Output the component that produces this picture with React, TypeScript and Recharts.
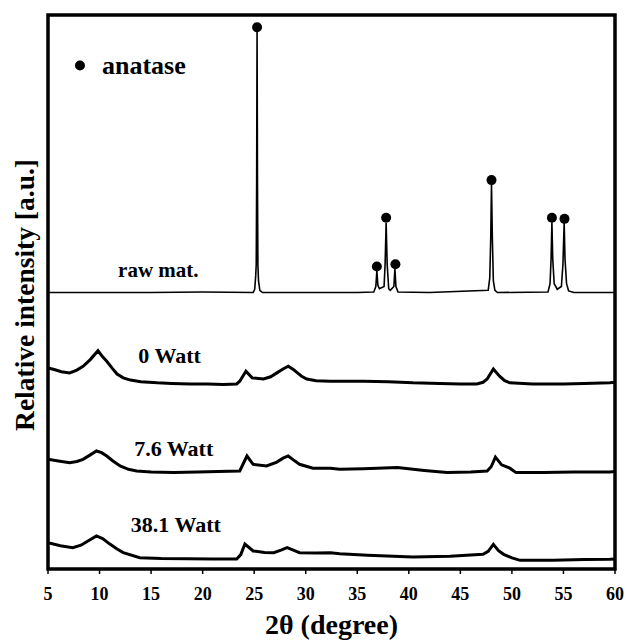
import React from 'react';
import {
  ComposedChart, Line, Scatter, XAxis, YAxis, ReferenceArea, ReferenceDot, Label,
} from 'recharts';

// 2-theta (degree) / relative intensity (a.u.)
const rawMat: [number, number][] = [
  [5, 49.9], [10, 49.9], [15, 49.9], [20, 50.0], [24.9, 49.9], [25.05, 50.5], [25.15, 53],
  [25.2, 55], [25.24, 70], [25.28, 97.2], [25.32, 70], [25.36, 55], [25.42, 52], [25.55, 50.3],
  [25.8, 49.9], [30, 49.9], [35, 49.9], [36.6, 50.0], [36.8, 51], [36.9, 53.8], [37.0, 51.2],
  [37.15, 50.6], [37.6, 51], [37.7, 55], [37.8, 62.5], [37.9, 55], [38.05, 50.6], [38.2, 50.3],
  [38.55, 51], [38.65, 54.2], [38.75, 51], [38.95, 50.0], [42, 49.9], [47.7, 50.3],
  [47.85, 52.5], [47.95, 60], [48.02, 69.5], [48.1, 60], [48.2, 52], [48.35, 50.3], [48.6, 49.9],
  [53.5, 50.0], [53.7, 51.5], [53.8, 56], [53.88, 62.6], [53.96, 56], [54.1, 51.5], [54.4, 50.5],
  [54.8, 51], [54.95, 55], [55.07, 62.5], [55.15, 56], [55.3, 51.5], [55.5, 50.2], [56, 49.9],
  [60, 49.9],
];

const watt0: [number, number][] = [
  [5, 36.3], [5.6, 36.0], [6.3, 35.6], [7.1, 35.4], [7.8, 35.9], [8.4, 36.6], [9.1, 37.8],
  [9.85, 39.4], [10.3, 38.3], [10.7, 37.5], [11.2, 36.3], [11.7, 35.2], [12.3, 34.5], [13, 34.1],
  [14, 33.8], [15.6, 33.6], [17, 33.5], [18.8, 33.4], [20.5, 33.4], [22, 33.3], [23.3, 33.4],
  [23.6, 33.9], [24.2, 35.7], [24.8, 34.5], [25.9, 34.3], [26.6, 34.7], [27.2, 35.4],
  [27.8, 36.1], [28.3, 36.6], [28.8, 36.0], [29.2, 35.4], [29.6, 34.8], [30.1, 34.3], [31, 34.0],
  [32.4, 33.9], [34, 33.9], [35.6, 33.9], [38, 33.8], [40.4, 33.6], [43, 33.5], [45, 33.4],
  [46.6, 33.4], [47.2, 33.7], [47.6, 34.3], [48.2, 36.1], [48.8, 34.8], [49.3, 34.0],
  [49.8, 33.6], [52, 33.4], [55, 33.4], [57, 33.5], [59.5, 33.6], [60, 33.7],
];

const watt76: [number, number][] = [
  [5, 19.8], [6, 19.5], [7.1, 19.2], [7.8, 19.4], [8.4, 19.8], [9.1, 20.6], [9.7, 21.3],
  [10.2, 21.0], [10.7, 20.4], [11.3, 19.5], [12, 18.6], [12.8, 18.0], [13.6, 17.7], [15, 17.5],
  [17.2, 17.4], [19.5, 17.5], [21.5, 17.6], [23.6, 17.7], [24.3, 20.4], [24.9, 18.9],
  [26.2, 18.6], [27.2, 19.3], [27.8, 20.0], [28.3, 20.4], [28.8, 19.7], [29.4, 18.9],
  [30.7, 18.2], [32.4, 18.2], [33.3, 18.0], [35.6, 18.1], [38.9, 18.3], [41.5, 17.8],
  [43.7, 17.4], [46, 17.5], [47.6, 17.7], [48.0, 18.5], [48.4, 20.2], [49.0, 18.8], [49.8, 18.2],
  [50.4, 17.4], [53, 17.4], [56, 17.5], [59.5, 17.5], [60, 17.6],
];

const watt381: [number, number][] = [
  [5, 4.75], [6.2, 4.2], [7.4, 3.85], [8.2, 4.3], [9.0, 5.2], [9.7, 5.96], [10.3, 5.5], [11, 4.5],
  [11.7, 3.6], [12.3, 2.95], [13.9, 2.04], [16, 1.9], [18.5, 1.85], [21, 1.8], [23.3, 1.8],
  [23.7, 2.6], [24.1, 4.5], [24.9, 3.25], [26, 3.0], [26.9, 2.95], [27.6, 3.4], [28.2, 3.85],
  [28.8, 3.4], [29.4, 2.95], [31, 2.9], [32.4, 2.95], [33.3, 2.76], [36, 2.5], [40.4, 2.17],
  [44, 2.3], [47.2, 2.65], [47.7, 3.2], [48.2, 4.45], [48.7, 3.3], [49.2, 2.65], [50, 2.0],
  [50.8, 1.56], [54, 1.6], [57, 1.7], [59.5, 1.75], [60, 1.8],
];

// anatase reflections (marker positions)
const anataseMarks: [number, number][] = [
  [25.28, 97.8], [36.9, 54.6], [37.8, 63.4], [38.7, 55.0], [48.02, 70.2], [53.88, 63.4], [55.1, 63.2],
];

const xTicks = [5, 10, 15, 20, 25, 30, 35, 40, 45, 50, 55, 60];

const toPts = (arr: [number, number][]) => arr.map(([x, y]) => ({ x, y }));

const serif = '"Liberation Serif", "Times New Roman", serif';

const HexDot = (props: any) => {
  const { cx, cy } = props;
  return <circle cx={cx} cy={cy} r={5} fill="#000" />;
};

const XTick = (props: any) => {
  const { x, y, payload } = props;
  return (
    <text x={x} y={y + 6} textAnchor="middle" fill="#000" fontSize={18} fontWeight="bold" fontFamily={serif}>
      {payload.value}
    </text>
  );
};

// text placed at a data position, centred on its x-height
const textShape = (value: string, size: number) => (p: any) => (
  <text
    x={p.cx}
    y={p.cy + size * 0.33}
    textAnchor="middle"
    fill="#000"
    fontSize={size}
    fontWeight="bold"
    fontFamily={serif}
  >
    {value}
  </text>
);

export default function App() {
  return (
    <div style={{ position: 'absolute', left: 0, top: 0, width: 627, height: 642, background: '#fff' }}>
      <ComposedChart width={627} height={642} margin={{ top: 15, right: 12, left: 0, bottom: 0 }}>
        <XAxis
          dataKey="x"
          type="number"
          domain={[5, 60]}
          ticks={xTicks}
          allowDataOverflow
          axisLine={false}
          tickLine={{ stroke: '#000', strokeWidth: 1.5 }}
          tickSize={5}
          tickMargin={20}
          height={73}
          tick={<XTick />}
        >
          <Label
            value="2θ (degree)"
            position="insideBottom"
            offset={8}
            style={{ fontSize: 28, fontWeight: 'bold', fontFamily: serif, fill: '#000' }}
          />
        </XAxis>
        <YAxis
          type="number"
          domain={[0, 100]}
          allowDataOverflow
          width={48}
          tick={false}
          tickLine={false}
          axisLine={false}
        >
          <Label
            value="Relative intensity [a.u.]"
            angle={-90}
            position="center"
            dy={3}
            style={{ fontSize: 27.5, fontWeight: 'bold', fontFamily: serif, fill: '#000' }}
          />
        </YAxis>

        <Line data={toPts(rawMat)} dataKey="y" type="linear" stroke="#000" strokeWidth={1.6} dot={false} isAnimationActive={false} />
        <Line data={toPts(watt0)} dataKey="y" type="linear" stroke="#000" strokeWidth={3} dot={false} isAnimationActive={false} />
        <Line data={toPts(watt76)} dataKey="y" type="linear" stroke="#000" strokeWidth={3} dot={false} isAnimationActive={false} />
        <Line data={toPts(watt381)} dataKey="y" type="linear" stroke="#000" strokeWidth={3} dot={false} isAnimationActive={false} />
        <Scatter data={toPts(anataseMarks)} dataKey="y" shape={<HexDot />} isAnimationActive={false} />

        <ReferenceDot x={8.1} y={90.9} r={5} fill="#000" stroke="none" />
        <ReferenceDot x={14.3} y={90.9} shape={textShape('anatase', 26)} />
        <ReferenceDot x={15.7} y={54.0} shape={textShape('raw mat.', 21)} />
        <ReferenceDot x={16.8} y={38.5} shape={textShape('0 Watt', 22)} />
        <ReferenceDot x={17.2} y={21.75} shape={textShape('7.6 Watt', 22)} />
        <ReferenceDot x={17.4} y={7.9} shape={textShape('38.1 Watt', 22)} />

        <ReferenceArea x1={5} x2={60} y1={0} y2={100} fill="none" stroke="#000" strokeWidth={3.5} />
      </ComposedChart>
    </div>
  );
}
